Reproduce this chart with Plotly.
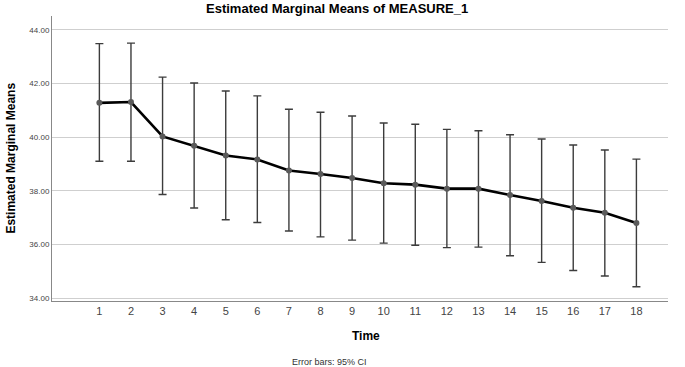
import plotly.graph_objects as go

time_labels = [str(i) for i in range(1, 19)]
means = [41.28, 41.31, 40.03, 39.68, 39.32, 39.17, 38.76, 38.63, 38.48, 38.28,
         38.23, 38.08, 38.08, 37.84, 37.62, 37.37, 37.18, 36.80]
upper = [43.49, 43.51, 42.24, 42.02, 41.72, 41.54, 41.04, 40.93, 40.79, 40.53,
         40.48, 40.29, 40.24, 40.09, 39.93, 39.71, 39.52, 39.18]
lower = [39.10, 39.10, 37.86, 37.36, 36.92, 36.82, 36.50, 36.28, 36.16, 36.05,
         35.97, 35.88, 35.90, 35.58, 35.33, 35.03, 34.82, 34.42]
y_ticks = [34, 36, 38, 40, 42, 44]

xpos = list(range(1, 19))
err_plus = [u - m for u, m in zip(upper, means)]
err_minus = [m - l for m, l in zip(means, lower)]

fig = go.Figure()
fig.add_trace(go.Scatter(
    x=xpos, y=means, mode="lines+markers",
    line=dict(color="black", width=2.6),
    marker=dict(color="#5a5a5a", size=6),
    error_y=dict(type="data", symmetric=False, array=err_plus, arrayminus=err_minus,
                 color="#3c3c3c", thickness=1.4, width=4),
    showlegend=False,
))

font_family = "Liberation Sans, Arial, sans-serif"
fig.update_layout(
    width=685, height=367,
    margin=dict(l=52, r=17, t=16, b=66),
    paper_bgcolor="white", plot_bgcolor="white",
    font=dict(family=font_family, color="#333333"),
    xaxis=dict(range=[-0.5, 19.0], tickmode="array", tickvals=xpos, ticktext=time_labels,
               showgrid=False, zeroline=False, showline=True, linecolor="#888888", linewidth=1,
               ticks="", tickfont=dict(size=11, color="#444444"), automargin=False),
    yaxis=dict(range=[33.89, 44.52], tickmode="array", tickvals=y_ticks,
               ticktext=[f"{v:.2f}" for v in y_ticks],
               showgrid=True, gridcolor="#cfcfcf", gridwidth=1, zeroline=False,
               showline=True, linecolor="#888888", linewidth=1, ticks="",
               tickfont=dict(size=8, color="#444444"), automargin=False),
    annotations=[
        dict(text="<b>Estimated Marginal Means of MEASURE_1</b>", x=0.463, xref="paper",
             xanchor="center", y=1.028, yref="paper", yanchor="middle", showarrow=False,
             font=dict(size=13, color="black", family=font_family)),
        dict(text="<b>Time</b>", x=0.51, xref="paper", xanchor="center",
             y=-0.123, yref="paper", yanchor="middle", showarrow=False,
             font=dict(size=12, color="black", family=font_family)),
        dict(text="<b>Estimated Marginal Means</b>", x=-0.068, xref="paper", xanchor="center",
             y=0.5, yref="paper", yanchor="middle", textangle=-90, showarrow=False,
             font=dict(size=12, color="black", family=font_family)),
        dict(text="Error bars: 95% CI", x=0.451, xref="paper", xanchor="center",
             y=-0.213, yref="paper", yanchor="middle", showarrow=False,
             font=dict(size=9, color="#333333", family=font_family)),
    ],
)

fig.write_html("out.html", config={"displayModeBar": False},
               post_script="document.body.style.margin='0';document.body.style.overflow='hidden';")
